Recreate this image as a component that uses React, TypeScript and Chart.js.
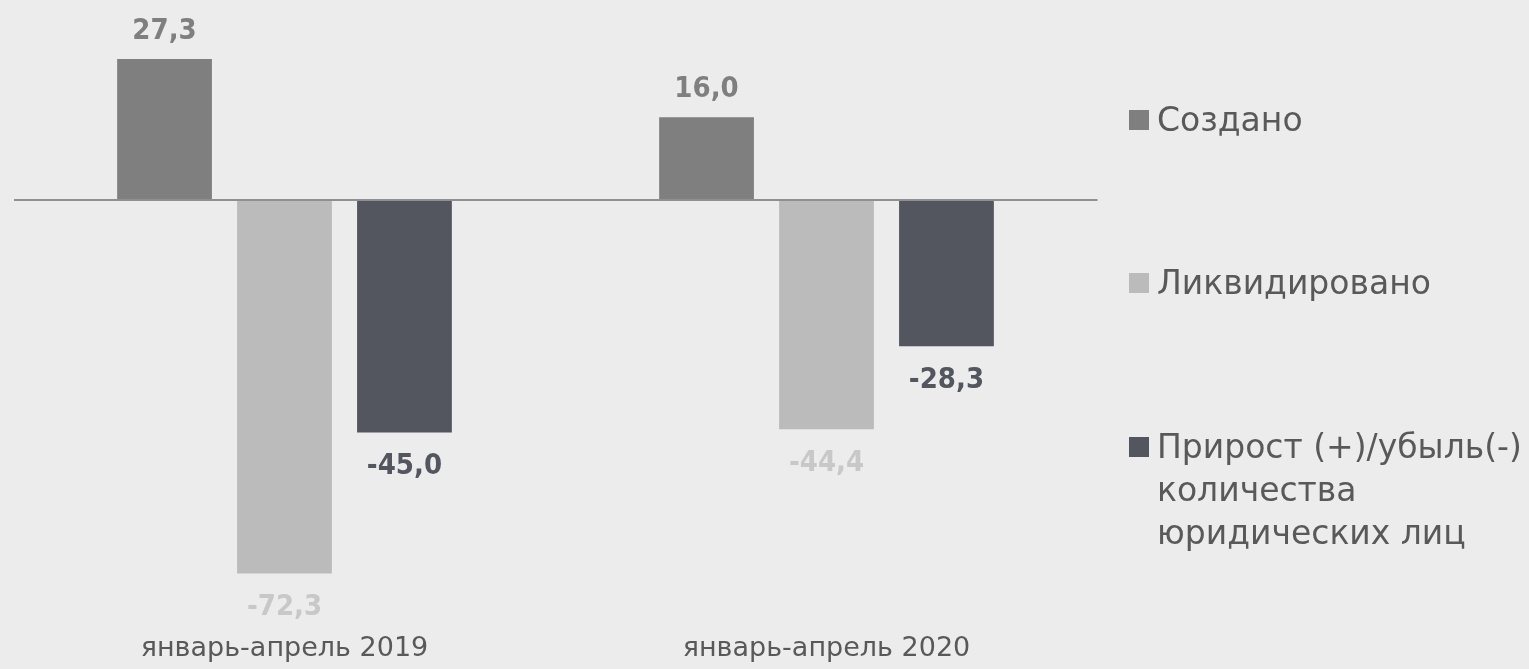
import React, { useEffect, useRef } from "react";
import { Chart, registerables } from "chart.js";

Chart.register(...registerables);

const categories = ["январь-апрель 2019", "январь-апрель 2020"];
const seriesNames = ["Создано", "Ликвидировано", "Прирост (+)/убыль(-) количества юридических лиц"];
const created = [27.3, 16.0];
const liquidated = [-72.3, -44.4];
const growth = [-45.0, -28.3];

const barColors = ["#7f7f7f", "#bbbbbb", "#53565e"];
const labelColors = ["#7f7f7f", "#c8c8c8", "#53565e"];
const legendLines = [["Создано"], ["Ликвидировано"], ["Прирост (+)/убыль(-)", "количества", "юридических лиц"]];
const legendTops = [98, 261, 425];

const valueLabels = {
  id: "valueLabels",
  afterDatasetsDraw(chart: any) {
    const ctx = chart.ctx;
    ctx.save();
    ctx.font = "bold 29px 'DejaVu Sans Condensed', 'DejaVu Sans'";
    ctx.textAlign = "center";
    ctx.textBaseline = "middle";
    chart.data.datasets.forEach((ds: any, di: number) => {
      const meta = chart.getDatasetMeta(di);
      meta.data.forEach((el: any, i: number) => {
        const v = ds.data[i] as number;
        const txt = v.toFixed(1).replace(".", ",");
        const y = v >= 0 ? el.y - 28 : el.y + 34;
        ctx.fillStyle = labelColors[di];
        ctx.fillText(txt, el.x, y);
      });
    });
    ctx.restore();
  },
};

export default function App() {
  const ref = useRef<HTMLCanvasElement | null>(null);
  useEffect(() => {
    document.body.style.margin = "0";
    document.body.style.background = "#ececec";
    const chart = new Chart(ref.current!, {
      type: "bar",
      data: {
        labels: categories,
        datasets: [created, liquidated, growth].map((d, i) => ({
          label: seriesNames[i],
          data: d,
          backgroundColor: barColors[i],
          borderWidth: 0,
          barPercentage: 0.79,
          categoryPercentage: 0.664,
        })),
      },
      options: {
        responsive: false,
        animation: false,
        layout: { padding: { left: 13.5, right: 431.5, top: 19.2, bottom: 0 } },
        plugins: { legend: { display: false }, tooltip: { enabled: false } },
        scales: {
          x: {
            grid: { display: false, drawTicks: false },
            border: { display: false },
            ticks: { font: { family: "'DejaVu Sans'", size: 27 }, color: "#595959", padding: 20 },
            afterFit: (s: any) => { s.height = 55.8; },
          },
          y: {
            min: -80,
            max: 35,
            border: { display: false },
            grid: {
              drawTicks: false,
              lineWidth: 2,
              color: (c: any) => (c.tick && c.tick.value === 0 ? "#8f8f8f" : "rgba(0,0,0,0)"),
            },
            ticks: { display: false, stepSize: 5 },
            afterFit: (s: any) => { s.width = 0; },
          },
        },
      },
      plugins: [valueLabels],
    });
    return () => chart.destroy();
  }, []);

  return (
    <div style={{ position: "relative", width: 1529, height: 669, background: "#ececec", overflow: "hidden" }}>
      <canvas ref={ref} width={1529} height={669} style={{ display: "block" }} />
      {legendLines.map((lines, i) => (
        <div key={i} style={{ position: "absolute", left: 1129, top: legendTops[i], whiteSpace: "nowrap" }}>
          <div style={{ position: "absolute", left: 0, top: 12, width: 20, height: 20, background: barColors[i] }} />
          <div style={{ marginLeft: 28, fontFamily: "'DejaVu Sans'", fontSize: 33, lineHeight: "43px", color: "#595959" }}>
            {lines.map((l, j) => (<div key={j}>{l}</div>))}
          </div>
        </div>
      ))}
    </div>
  );
}
